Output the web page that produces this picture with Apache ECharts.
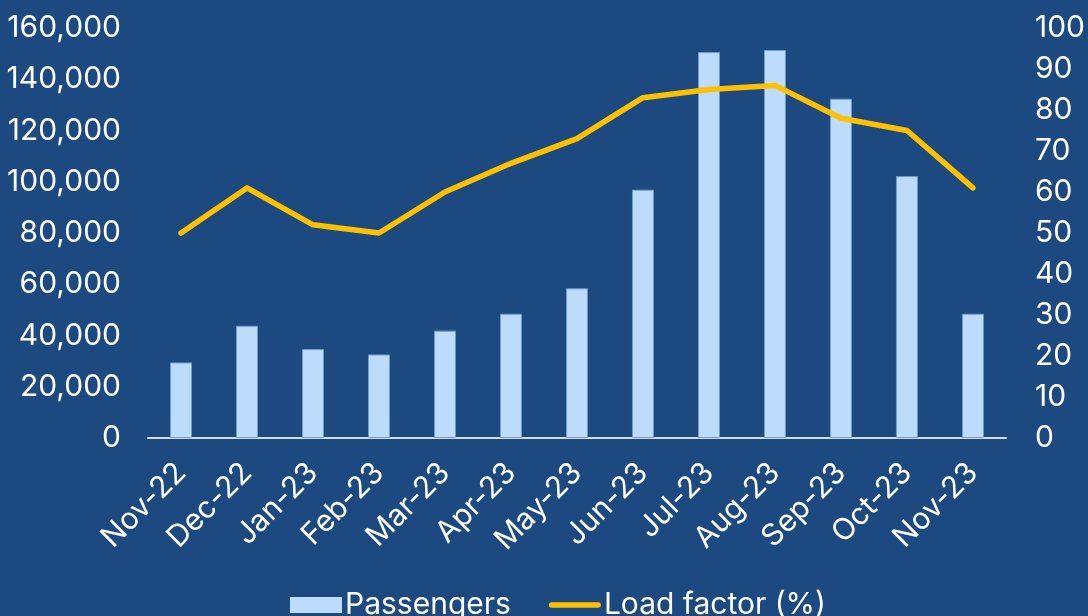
<!DOCTYPE html>
<html>
<head>
<meta charset="utf-8">
<script src="https://cdn.jsdelivr.net/npm/echarts@6/dist/echarts.min.js"></script>
<style>
  html, body { margin: 0; padding: 0; background: #1c4a80; }
  #main { width: 1088px; height: 616px; }
</style>
</head>
<body>
<div id="main"></div>
<script>
// monthly passengers and load factor, Nov-22 .. Nov-23
var months = ['Nov-22', 'Dec-22', 'Jan-23', 'Feb-23', 'Mar-23', 'Apr-23', 'May-23',
              'Jun-23', 'Jul-23', 'Aug-23', 'Sep-23', 'Oct-23', 'Nov-23'];
var passengers = [29500, 43800, 34700, 32600, 41900, 48500, 58400,
                  96900, 150600, 151400, 132400, 102200, 48500];
var loadFactor = [50, 61, 52, 50, 60, 67, 73, 83, 85, 86, 78, 75, 61];

var FONT = 'Inter';
var myChart = echarts.init(document.getElementById('main'));
var option = {
    backgroundColor : '#1c4a80',
    animation : false,
    textStyle : { fontFamily : FONT },
    grid : {
        left : 148,
        right : 80,
        top : 28,
        bottom : 178
    },
    legend : {
        top : 585,
        left : 285,
        itemWidth : 52,
        itemHeight : 16,
        itemGap : 38,
        textStyle : { color : '#ffffff', fontSize : 30, fontFamily : FONT, padding : [0, 0, 0, -2] },
        data : [
            { name : 'Passengers', icon : 'rect', itemStyle : { borderWidth : 0 } },
            { name : 'Load factor (%)',
              icon : 'path://M3,0 L53,0 A3,3 0 0 1 53,6 L3,6 A3,3 0 0 1 3,0 Z' }
        ]
    },
    xAxis : [ {
        type : 'category',
        data : months,
        axisLine : { lineStyle : { color : '#d9d9d9', width : 2 } },
        axisTick : { show : false },
        axisLabel : {
            color : '#ffffff',
            fontSize : 30,
            rotate : 45,
            margin : 30,
            interval : 0
        }
    } ],
    yAxis : [ {
        type : 'value',
        min : 0,
        max : 160000,
        interval : 20000,
        splitLine : { show : false },
        axisLine : { show : false },
        axisTick : { show : false },
        axisLabel : {
            color : '#ffffff',
            fontSize : 30,
            margin : 27,
            formatter : function (v) { return v.toLocaleString('en-US'); }
        }
    }, {
        type : 'value',
        min : 0,
        max : 100,
        interval : 10,
        splitLine : { show : false },
        axisLine : { show : false },
        axisTick : { show : false },
        axisLabel : {
            color : '#ffffff',
            fontSize : 30,
            margin : 29
        }
    } ],
    series : [ {
        name : 'Passengers',
        type : 'bar',
        barWidth : 22,
        itemStyle : {
            color : '#bddcfb',
            borderColor : '#6f9ccc',
            borderWidth : 1
        },
        data : passengers
    }, {
        name : 'Load factor (%)',
        type : 'line',
        yAxisIndex : 1,
        symbol : 'none',
        lineStyle : { color : '#ffc000', width : 5.5, cap : 'round', join : 'round' },
        itemStyle : { color : '#ffc000' },
        data : loadFactor
    } ]
};
myChart.setOption(option);
</script>
</body>
</html>
